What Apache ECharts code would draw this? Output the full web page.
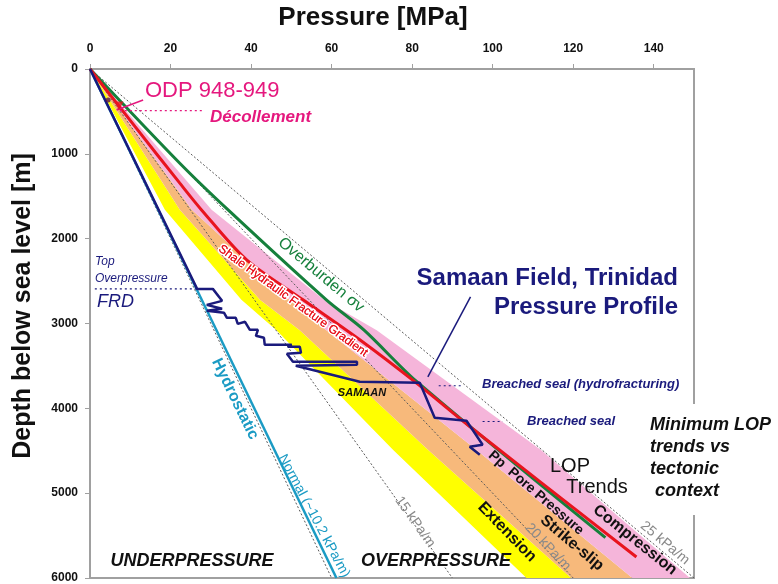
<!DOCTYPE html>
<html><head><meta charset="utf-8">
<script src="https://cdn.jsdelivr.net/npm/echarts@6/dist/echarts.min.js"></script>
<style>html,body{margin:0;padding:0;background:#fff}#c{width:778px;height:584px}</style>
</head><body><div id="c"></div>
<script>
// ---- tick labels ----
const xTicks = [0, 20, 40, 60, 80, 100, 120, 140];
const yTicks = [0, 1000, 2000, 3000, 4000, 5000, 6000];

// ---- LOP trend bands (pressure MPa at depth m) ----
const bandDepths     = [0, 1660, 2720, 3080, 4490, 6000];
const extensionMin   = [0, 18.6, 37.6, 46.3, 75.3, 108.4];
const extensionMax   = [0, 22.3, 42.2, 52.1, 84.0, 119.5];
const strikeSlipMax  = [0, 25.3, 49.6, 58.7, 96.0, 134.7];
const compressionMax = [0, 30.2, 58.1, 71.2, 112.0, 149.0];

// ---- curves ----
const overburdenP = [0, 22.3, 34.3, 58.7, 68.0, 81.1, 128.0];
const overburdenD = [0, 1111, 1661, 2721, 3075, 3683, 5525];
const fracP = [0, 11.2, 22.3, 27.7, 38.9, 52.9, 67.0, 81.1, 94.3, 135.7];
const fracD = [0, 680, 1346, 1661, 2250, 2721, 3192, 3703, 4214, 5752];
const hydroP = [0, 61.2];
const hydroD = [0, 6000];
const samaanP = [0, 26.6, 30.5, 32.8, 29.0, 32.8, 29.0, 33.3, 34.0, 36.2, 36.7, 38.5, 39.7, 41.7, 41.2, 43.2, 43.4, 50.1, 49.1, 52.1, 52.4, 48.9, 50.4, 66.3, 66.3, 51.1, 67.0, 81.9, 85.6, 93.5, 97.5, 94.3, 96.8];
const samaanD = [0, 2592, 2592, 2733, 2780, 2827, 2851, 2874, 2933, 2933, 3004, 2980, 3075, 3075, 3145, 3169, 3251, 3251, 3275, 3275, 3346, 3357, 3452, 3452, 3487, 3499, 3687, 3699, 4111, 4147, 4429, 4453, 4547];

// ---- reference gradients (pressure at 6000 m) ----
const gradientLabels = ['Normal', '15 kPa/m', '20 kPa/m', '25 kPa/m'];
const gradientEndP = [60, 90, 120, 150];
const gradientEndD = 6000;

// ---- annotation marks ----
const odpPointP = [4.5, 7.2];
const odpPointD = [365, 436];
const odpLeaderP = [13.2, 6.6];
const odpLeaderD = [365, 483];
const decollementP = [7.4, 28.0];
const decollementD = [491, 491];
const frdP = [1.2, 26.6];
const frdD = [2591, 2591];
const seal1P = [86.6, 92.3];
const seal1D = [3734, 3734];
const seal2P = [97.5, 102.5];
const seal2D = [4155, 4155];
const samaanLeaderP = [94.5, 83.9];
const samaanLeaderD = [2686, 3628];

const zip = (p, d) => p.map((v, i) => [v, Array.isArray(d) ? d[i] : d]);

const F = "'Liberation Sans', Arial, Helvetica, sans-serif";
const NAVY = '#1a1a7c', RED = '#e8141e', GREEN = '#16803c', CYAN = '#1b9bc4', MAG = '#e5187e';

function band(left, right, color) {
  return {
    type: 'custom', silent: true, z: 1, clip: true,
    data: [[0, 0]],
    renderItem: (params, api) => {
      const pts = [];
      for (let i = 0; i < bandDepths.length; i++) pts.push(api.coord([left[i], bandDepths[i]]));
      for (let i = bandDepths.length - 1; i >= 0; i--) pts.push(api.coord([right[i], bandDepths[i]]));
      return { type: 'polygon', shape: { points: pts }, style: { fill: color } };
    }
  };
}
function line(data, color, width, z, type, smooth) {
  return {
    type: 'line', data, showSymbol: false, silent: true, z, smooth: smooth || false,
    lineStyle: { color, width, type: type || 'solid' }, animation: false
  };
}
function txt(text, x, y, font, fill, o) {
  o = o || {};
  const st = { text, font: font + ' ' + F, fill, align: o.align || 'center', verticalAlign: o.va || 'middle' };
  if (o.lh) st.lineHeight = o.lh;
  if (o.stroke) { st.stroke = o.stroke; st.lineWidth = o.lw || 3; }
  return { type: 'text', x, y, rotation: (o.rot || 0) * Math.PI / 180, z: 100, silent: true, style: st };
}

const series = [
  band(extensionMin, extensionMax, '#ffff00'),
  band(extensionMax, strikeSlipMax, '#f7b97b'),
  band(strikeSlipMax, compressionMax, '#f5b5da'),
];
gradientEndP.forEach(p => series.push(line([[0, 0], [p, gradientEndD]], '#5a5a5a', 1, 2, [2, 2])));
series.push(line(zip(hydroP, hydroD), CYAN, 2.5, 3));
series.push(line(zip(overburdenP, overburdenD), GREEN, 3, 4, 'solid', 0.3));
series.push(line(zip(fracP, fracD), RED, 3, 5, 'solid', 0.3));
series.push(line(zip(samaanP, samaanD), NAVY, 2.5, 6));
series.push(line(zip(odpLeaderP, odpLeaderD), MAG, 1.5, 7));
series.push(line(zip(decollementP, decollementD), MAG, 1.2, 7, [2, 3]));
series.push(line(zip(frdP, frdD), NAVY, 1.2, 7, [2, 3]));
series.push(line(zip(seal1P, seal1D), NAVY, 1.2, 7, [2, 3]));
series.push(line(zip(seal2P, seal2D), NAVY, 1.2, 7, [2, 3]));
series.push(line(zip(samaanLeaderP, samaanLeaderD), NAVY, 1.5, 7));
series.push({
  type: 'scatter', z: 8, silent: true, animation: false,
  data: [
    { value: [odpPointP[0], odpPointD[0]], symbol: 'circle', symbolSize: 5, itemStyle: { color: '#5a1050' } },
    { value: [odpPointP[1], odpPointD[1]], symbol: 'triangle', symbolSize: 9, symbolRotate: 180, itemStyle: { color: RED } }
  ]
});

const axisGray = '#a0a0a0';
const option = {
  backgroundColor: '#fff',
  animation: false,
  grid: { left: 90, top: 69, right: 84, bottom: 6, show: true, borderColor: axisGray, borderWidth: 2 },
  xAxis: {
    type: 'value', position: 'top', min: 0, max: 150, interval: 20,
    axisLine: { show: true, lineStyle: { color: axisGray, width: 2 } },
    axisTick: { show: true, length: 5, lineStyle: { color: axisGray }, customValues: xTicks },
    axisLabel: { customValues: xTicks, margin: 14, color: '#111', fontWeight: 'bold', fontSize: 12, fontFamily: F, formatter: v => String(v) },
    splitLine: { show: false }
  },
  yAxis: {
    type: 'value', inverse: true, min: 0, max: 6000, interval: 1000,
    axisLine: { show: true, lineStyle: { color: axisGray, width: 2 } },
    axisTick: { show: true, length: 5, lineStyle: { color: axisGray }, customValues: yTicks },
    axisLabel: { customValues: yTicks, margin: 12, color: '#111', fontWeight: 'bold', fontSize: 12, fontFamily: F, formatter: v => String(v) },
    splitLine: { show: false }
  },
  series,
  graphic: [
    txt('Pressure [MPa]', 373, 18, 'bold 26px', '#111'),
    txt('Depth below sea level [m]', 23, 306, 'bold 25px', '#111', { rot: 90 }),
    txt('ODP 948-949', 145, 91, '22px', MAG, { align: 'left' }),
    txt('Décollement', 210, 117, 'italic bold 17px', MAG, { align: 'left' }),
    txt('Top', 95, 262, 'italic 12px', NAVY, { align: 'left' }),
    txt('Overpressure', 95, 279, 'italic 12px', NAVY, { align: 'left' }),
    txt('FRD', 97, 302, 'italic 18px', NAVY, { align: 'left' }),
    txt('Overburden σv', 321, 275, '16px', GREEN, { rot: -40 }),
    txt('Shale Hydraulic Fracture Gradient', 293, 301, '12px', RED, { rot: -36, stroke: '#fff', lw: 3 }),
    txt('Shale Hydraulic Fracture Gradient', 293, 301, '12px', RED, { rot: -36 }),
    txt('Samaan Field, Trinidad', 678, 278, 'bold 24px', NAVY, { align: 'right' }),
    txt('Pressure Profile', 678, 307, 'bold 24px', NAVY, { align: 'right' }),
    txt('Hydrostatic', 235, 399, 'bold 16px', CYAN, { rot: -64 }),
    txt('Normal (~10.2 kPa/m)', 314, 516, '14px', CYAN, { rot: -62 }),
    txt(gradientLabels[1], 415, 522, '14px', '#8a8a8a', { rot: -54.5 }),
    txt(gradientLabels[2], 548, 547, '14px', '#8a8a8a', { rot: -46.5 }),
    txt(gradientLabels[3], 665, 543, '14px', '#8a8a8a', { rot: -40 }),
    txt('SAMAAN', 362, 393, 'italic bold 11px', '#111'),
    txt('Breached seal (hydrofracturing)', 482, 384, 'italic bold 13px', NAVY, { align: 'left' }),
    txt('Breached seal', 527, 421, 'italic bold 13px', NAVY, { align: 'left' }),
    txt('Pp  Pore Pressure', 536, 493, 'bold 14px', '#111', { rot: -40.7 }),
    txt('LOP', 570, 466, '20px', '#111'),
    txt('Trends', 597, 487, '20px', '#111'),
    txt('Extension', 507, 532, 'bold 16px', '#111', { rot: -45.8 }),
    txt('Strike-slip', 572, 543, 'bold 16px', '#111', { rot: -40 }),
    txt('Compression', 635, 540, 'bold 16px', '#111', { rot: -38.7 }),
    txt('UNDERPRESSURE', 192, 561, 'italic bold 18px', '#111'),
    txt('OVERPRESSURE', 436, 561, 'italic bold 18px', '#111'),
    { type: 'rect', z: 99, silent: true, shape: { x: 646, y: 404, width: 132, height: 111 }, style: { fill: '#fff' } },
    txt('Minimum LOP\ntrends vs\ntectonic\n context', 650, 414, 'italic bold 18px', '#111', { align: 'left', va: 'top', lh: 22 })
  ]
};
const chart = echarts.init(document.getElementById('c'), null, { renderer: 'canvas' });
chart.setOption(option);
</script></body></html>
